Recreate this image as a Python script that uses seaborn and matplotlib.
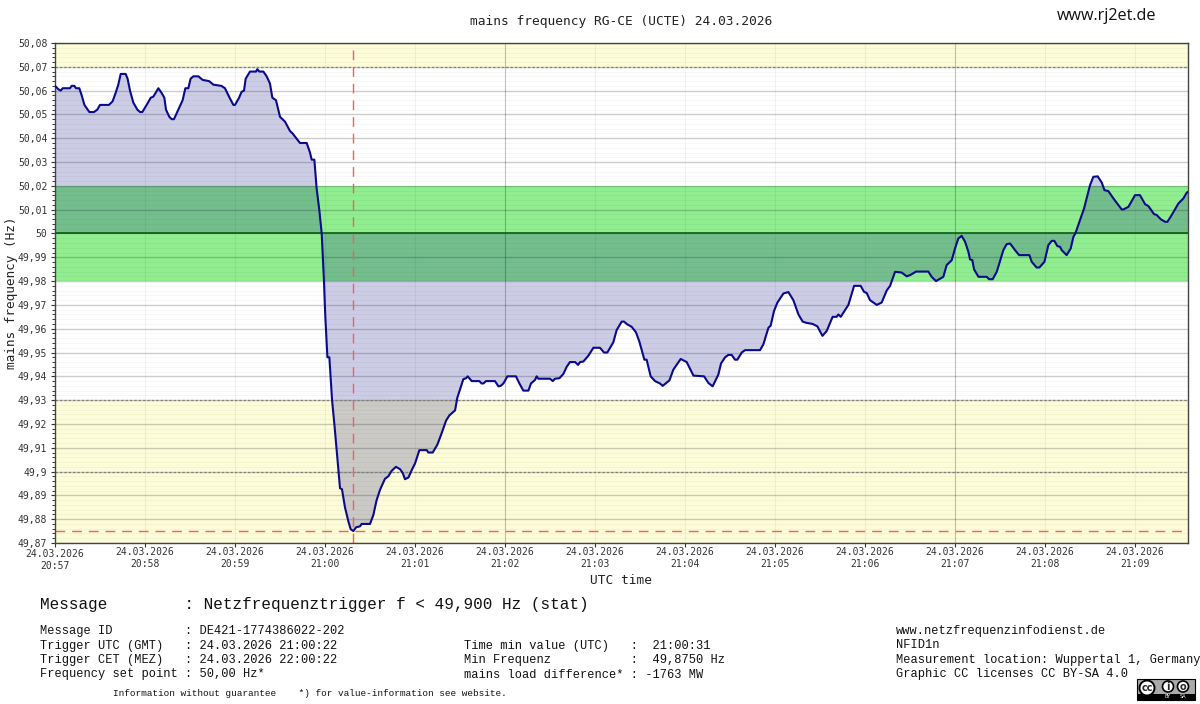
import matplotlib
matplotlib.use("Agg")
import matplotlib.pyplot as plt
from matplotlib.patches import Rectangle, Ellipse
import numpy as np
import pandas as pd
import seaborn as sns

# seconds after 20:57:00 UTC
time_s = [0, 2.2, 3.8, 5.1, 10, 11.1, 12.9, 14, 16.2, 17.8, 19.6, 22.9, 26, 28.2, 30, 36, 38.4, 40.4, 42.2, 43.8,
          47.1, 48.4, 50, 52.2, 54.9, 56.7, 58.2, 61.1, 63.8, 65.6, 68.9, 71.1, 72.9, 74, 76.2, 77.8, 79.3, 82.2,
          85.1, 86.9, 88.9, 90.4, 92.2, 95.6, 98.4, 102.7, 105.6, 110.9, 113.3, 116, 118.9, 120, 122.7, 124.4,
          126, 127.1, 130, 134, 134.9, 136.2, 138.9, 141.1, 143.3, 144.9, 147.3, 150, 153.3, 156.7, 158.4, 163.3,
          167.8, 170, 171.1, 172.9,
          174.4, 176.2, 177.8, 179.3, 180.2, 181.6, 182.9, 184.7, 186.4, 188.2, 190, 191.3, 193.3, 195.6, 197.1,
          198.9, 200.7, 203.3, 204.4, 210, 212.2, 214.4, 216.7, 220, 222.2, 224.4, 227.3, 230, 231.8, 233.3, 235.6,
          237.8, 240,
          242.9, 247.8, 248.9, 251.8, 254.9, 257.8, 260.7, 262.9, 266.7, 268.2, 272.2, 274, 275.1, 277.8, 282.9,
          284.4, 285.6, 287.3, 293.3, 295.6, 297.1, 298.9, 301.6, 307.3, 309.6, 312.2, 315.6, 317.3, 320, 321.1,
          322.2, 330, 331.8, 333.3, 336.2, 338.9, 341.1, 343.3, 346.7, 348.7, 350, 352.2, 355.6, 358.9, 363.3, 366,
          368.2, 372.2, 374.4, 377.8, 379.3, 381.1, 384.4, 387.3, 389.6, 392.9, 394.4, 397.1, 400,
          403.3, 405.1, 409.6, 412.2, 417.1, 421.1, 425.6, 432.7, 435.6, 438.4, 442.2, 444, 446.7, 448.9, 451.1,
          453.3, 454.9, 457.8, 460, 470, 472.2, 475.6, 477.1, 479.3, 481.6, 485.6, 488.9, 492.2, 495.6, 498.4,
          500.7, 505.1, 508.2, 511.6, 514.4, 518.4, 521.1, 522.2, 523.8, 528.9, 532.7, 537.1, 539.3, 541.1, 543.3,
          547.8, 551.1, 554.4, 556.7,
          560, 564.4, 567.8, 570, 574, 582.2, 584.4, 587.3, 592.2, 594.4, 597.8, 600, 602.2, 604.4, 606.7, 608.9,
          610, 611.5, 612.7, 615.6, 621.1, 622.7, 625.1, 627.8, 632.2, 634.4, 636.7, 640, 642.7, 649.6, 651.1,
          654.4, 656.2, 659.6, 662.2, 664.4, 666.2, 668.2, 670, 671.1, 674.4, 677.1, 678.9, 680.2, 686, 690, 692.2,
          695.1, 697.8, 699.6, 702.2, 705.6, 711.1, 712.2, 715.6, 720, 723.3, 726.7, 728.9, 732.7, 734.4, 737.1,
          740, 741.6, 744.4, 748.9, 752.2, 754.4, 755.3]

freq_hz = [50.062, 50.0606, 50.06, 50.061, 50.061, 50.062, 50.062, 50.061, 50.061, 50.058, 50.054, 50.051, 50.051,
           50.052, 50.054, 50.054, 50.0555, 50.059, 50.0625, 50.067,
           50.067, 50.065, 50.06, 50.055, 50.052, 50.051, 50.051, 50.054, 50.057, 50.0575, 50.061, 50.059, 50.057,
           50.052, 50.049, 50.048, 50.048, 50.052,
           50.056, 50.061, 50.061, 50.065, 50.066, 50.066, 50.0645, 50.064, 50.0625, 50.062, 50.061, 50.0575, 50.054,
           50.054, 50.057, 50.0595,
           50.06, 50.065, 50.068, 50.068, 50.069, 50.068, 50.068, 50.066, 50.063, 50.057, 50.056, 50.049, 50.047,
           50.043, 50.042, 50.038,
           50.038, 50.034, 50.031, 50.031,
           50.019, 50.0098, 50.0, 49.98, 49.965, 49.948, 49.948, 49.93, 49.9188, 49.906, 49.893, 49.8926, 49.885,
           49.879, 49.8758,
           49.875, 49.8766, 49.877, 49.878, 49.878, 49.8817, 49.888, 49.8924, 49.897, 49.898, 49.9003, 49.902, 49.901,
           49.8994, 49.8968, 49.8975,
           49.9006, 49.9034,
           49.909, 49.909, 49.908, 49.908, 49.9113, 49.9162, 49.9214, 49.9236, 49.9257, 49.931, 49.9388, 49.9392,
           49.94, 49.938, 49.938,
           49.937, 49.937, 49.938, 49.938, 49.9358, 49.936, 49.937, 49.94, 49.94, 49.937, 49.934, 49.934, 49.937,
           49.9385, 49.94,
           49.939, 49.939, 49.938, 49.939, 49.9392, 49.941, 49.944, 49.946, 49.946, 49.9448, 49.946, 49.9462,
           49.9487, 49.952, 49.952, 49.95,
           49.95, 49.9543, 49.9594, 49.963, 49.963, 49.962, 49.9608, 49.9585, 49.9545, 49.947, 49.947, 49.94, 49.938,
           49.937, 49.936, 49.9383, 49.9428, 49.9473, 49.946, 49.9403, 49.94, 49.9372, 49.9358, 49.9407, 49.9454,
           49.948, 49.949, 49.949,
           49.947, 49.947, 49.95, 49.951, 49.951, 49.9534, 49.9604, 49.9613, 49.9674, 49.971, 49.9748, 49.9754,
           49.972, 49.966, 49.963,
           49.9625, 49.962, 49.961, 49.957, 49.959, 49.965, 49.965, 49.966, 49.965, 49.97, 49.978, 49.978, 49.9755,
           49.975, 49.972,
           49.97, 49.971, 49.976, 49.978,
           49.9839, 49.9836, 49.982, 49.9825, 49.984, 49.984, 49.9818, 49.98, 49.9818, 49.9867, 49.9888, 49.9937,
           49.9979, 49.999, 49.9965, 49.9923,
           49.9891, 49.9888, 49.9849, 49.9818, 49.9818, 49.9808, 49.9808, 49.9839, 49.993, 49.9955, 49.9958, 49.993,
           49.9909, 49.9909, 49.9881,
           49.9857, 49.9857, 49.9881, 49.9951, 49.9969, 49.9969, 49.9947, 49.9944, 49.993, 49.9909, 49.9937, 49.9986,
           50.0, 50.0105, 50.0203, 50.0238,
           50.024, 50.0214, 50.0182, 50.0178, 50.0147, 50.0101, 50.0101, 50.0112, 50.0161, 50.0161, 50.0123, 50.0115,
           50.0081, 50.0078, 50.006,
           50.0049, 50.0049, 50.0077, 50.0126, 50.0147, 50.0171, 50.0175]

minute_ticks = list(range(0, 721, 60))
minute_labels = ["20:57", "20:58", "20:59", "21:00", "21:01", "21:02", "21:03",
                 "21:04", "21:05", "21:06", "21:07", "21:08", "21:09"]
date_label = "24.03.2026"
y_ticks = [49.87, 49.88, 49.89, 49.90, 49.91, 49.92, 49.93, 49.94, 49.95, 49.96, 49.97, 49.98, 49.99,
           50.00, 50.01, 50.02, 50.03, 50.04, 50.05, 50.06, 50.07, 50.08]
y_labels = ["49,87", "49,88", "49,89", "49,9", "49,91", "49,92", "49,93", "49,94", "49,95", "49,96", "49,97",
            "49,98", "49,99", "50", "50,01", "50,02", "50,03", "50,04", "50,05", "50,06", "50,07", "50,08"]
set_point = 50.0
min_value = 49.875
min_time_s = 198.7
x_end = 755.3

sns.set_style("white")
plt.rcParams["font.family"] = ["DejaVu Sans Mono"]
W, H = 1200, 704
fig = plt.figure(figsize=(W / 100, H / 100), dpi=100)
ax = fig.add_axes([55 / W, 1 - 543 / H, (1188 - 55) / W, (543 - 43) / H])

df = pd.DataFrame({"t": time_s, "f": freq_hz})

ax.axhspan(50.07, 50.08, color="#fdfcd8", lw=0, zorder=0.1)
ax.axhspan(49.87, 49.93, color="#fdfcd8", lw=0, zorder=0.1)
ax.axhspan(49.98, 50.02, color="#90ee90", lw=0, zorder=0.2)
ax.set_axisbelow(True)

ax.set_xlim(0, x_end)
ax.set_ylim(49.87, 50.08)
ax.set_xticks(minute_ticks)
ax.set_xticklabels([f"{date_label}\n{m}" for m in minute_labels], linespacing=1.2)
ax.set_yticks(y_ticks)
ax.set_yticklabels(y_labels)
ax.set_yticks(np.arange(49.87, 50.0801, 0.002), minor=True)
ax.grid(True, axis="y", which="major", color="black", alpha=0.2, lw=1.0)
ax.grid(True, axis="y", which="minor", color="black", alpha=0.03, lw=0.8)
ax.grid(True, axis="x", which="major", color="black", alpha=0.05, lw=0.8)
for m in (300, 600):
    ax.axvline(m, color="black", alpha=0.2, lw=0.8, zorder=0.6)

for level in (50.07, 49.93, 49.90):
    ax.axhline(level, color="#808080", lw=0.9, ls=(0, (2, 1.5)), zorder=1.5)
ax.axhline(set_point, color="#0b5d0b", lw=1.2, zorder=2)
ax.axhline(min_value, color="#f06060", lw=1.0, ls=(0, (7, 5)), zorder=2)
ax.axvline(min_time_s, color="#f06060", lw=1.0, ls=(0, (7, 5)), zorder=2)

ax.fill_between(df["t"], df["f"], set_point, color="navy", alpha=0.2, lw=0, zorder=1)
sns.lineplot(data=df, x="t", y="f", ax=ax, color="#0a0a8c", lw=1.5, zorder=3, errorbar=None, estimator=None)

ax.set_xlabel("UTC time", fontsize=9.3, color="#222222", labelpad=2)
ax.set_ylabel("mains frequency (Hz)", fontsize=9.2, color="#222222", labelpad=0)
ax.tick_params(axis="x", which="major", labelsize=7, colors="#333333", length=3, width=0.8, bottom=True, pad=0)
ax.tick_params(axis="y", which="major", labelsize=7, colors="#333333", length=3, width=0.8, left=True, pad=2.5)
ax.tick_params(axis="y", which="minor", length=2, width=0.7, color="#333333", left=True)
ax.get_xticklabels()[0].set_y(-0.004)
for s in ax.spines.values():
    s.set_color("#444444")
    s.set_linewidth(1.0)


def txt(x, y, s, size, family="Liberation Mono", color="#111111", **kw):
    return fig.text(x / W, 1 - y / H, s, fontsize=size, family=family, color=color, va="center", **kw)


txt(621.5, 22, "mains frequency RG-CE (UCTE) 24.03.2026", 9.3, family="DejaVu Sans Mono", ha="center", color="#222222")
txt(1056.5, 16.5, "www.rj2et.de", 11.6, family="Open Sans")

txt(40, 605, "Message        : Netzfrequenztrigger f < 49,900 Hz (stat)", 11.5)
left_lines = ["Message ID          : DE421-1774386022-202",
              "Trigger UTC (GMT)   : 24.03.2026 21:00:22",
              "Trigger CET (MEZ)   : 24.03.2026 22:00:22",
              "Frequency set point : 50,00 Hz*"]
for y, line in zip((631, 645.5, 660, 674.5), left_lines):
    txt(40, y, line, 8.63)
mid_lines = ["Time min value (UTC)   :  21:00:31",
             "Min Frequenz           :  49,8750 Hz",
             "mains load difference* : -1763 MW"]
for y, line in zip((645.5, 660, 674.5), mid_lines):
    txt(464, y, line, 8.63)
right_lines = ["www.netzfrequenzinfodienst.de", "NFID1n",
               "Measurement location: Wuppertal 1, Germany",
               "Graphic CC licenses CC BY-SA 4.0"]
for y, line in zip((631, 645.5, 660, 674.5), right_lines):
    txt(896, y, line, 8.63)
txt(113, 693, "Information without guarantee    *) for value-information see website.", 6.75)

# licence badge
def rect(x0, y0, x1, y1, **kw):
    fig.add_artist(Rectangle((x0 / W, 1 - y1 / H), (x1 - x0) / W, (y1 - y0) / H,
                             transform=fig.transFigure, **kw))


def circ(cx, cy, r, **kw):
    fig.add_artist(Ellipse((cx / W, 1 - cy / H), 2 * r / W, 2 * r / H, transform=fig.transFigure, **kw))


rect(1137, 679, 1195, 700, fc="#aaaaaa", ec="black", lw=0.8)
rect(1137, 694, 1195, 700, fc="black", ec="black", lw=0)
circ(1147, 688, 7.5, fc="white", ec="black", lw=1.4)
circ(1168, 686.5, 5.5, fc="white", ec="black", lw=1.2)
circ(1183, 686.5, 5.5, fc="white", ec="black", lw=1.2)
fig.text(1147 / W, 1 - 688 / H, "cc", fontsize=7, fontweight="bold", family="DejaVu Sans", ha="center", va="center")
fig.text(1168 / W, 1 - 686.5 / H, "i", fontsize=7, fontweight="bold", family="DejaVu Sans", ha="center", va="center")
fig.text(1183 / W, 1 - 686.5 / H, "o", fontsize=7, fontweight="bold", family="DejaVu Sans", ha="center", va="center")
fig.text(1168 / W, 1 - 697 / H, "BY", fontsize=3.5, color="white", family="DejaVu Sans", ha="center", va="center")
fig.text(1183 / W, 1 - 697 / H, "SA", fontsize=3.5, color="white", family="DejaVu Sans", ha="center", va="center")

fig.savefig("out.png", dpi=100)
